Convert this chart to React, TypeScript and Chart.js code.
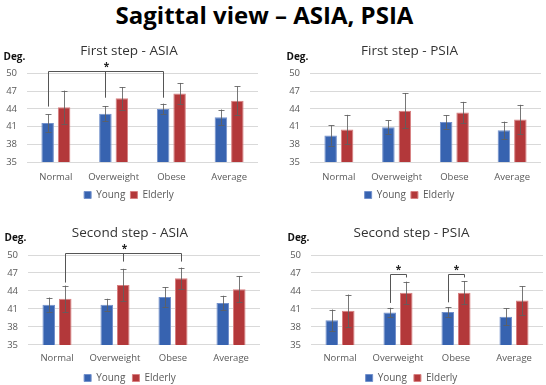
import React, { useEffect, useRef } from 'react';
import { Chart, registerables } from 'chart.js';

Chart.register(...registerables);

const FONT = '"Open Sans", "Noto Sans", sans-serif';

const categories = ['Normal', 'Overweight', 'Obese', 'Average'];
const yTicks = [35, 38, 41, 44, 47, 50];

// First step - ASIA
const asia1Young = [41.6, 43.2, 44.0, 42.6];
const asia1YoungErr = [1.5, 1.3, 0.9, 1.3];
const asia1Elderly = [44.3, 45.8, 46.6, 45.4];
const asia1ElderlyErr = [2.8, 1.9, 1.8, 2.4];

// First step - PSIA
const psia1Young = [39.5, 40.9, 41.8, 40.4];
const psia1YoungErr = [1.7, 1.15, 1.15, 1.45];
const psia1Elderly = [40.5, 43.7, 43.4, 42.2];
const psia1ElderlyErr = [2.5, 3.0, 1.8, 2.5];

// Second step - ASIA
const asia2Young = [41.7, 41.7, 43.0, 42.0];
const asia2YoungErr = [1.2, 1.0, 1.65, 1.2];
const asia2Elderly = [42.7, 45.0, 46.1, 44.3];
const asia2ElderlyErr = [2.2, 2.7, 1.8, 2.2];

// Second step - PSIA
const psia2Young = [39.1, 40.4, 40.5, 39.7];
const psia2YoungErr = [1.8, 0.8, 0.8, 1.4];
const psia2Elderly = [40.7, 43.7, 43.7, 42.4];
const psia2ElderlyErr = [2.7, 1.85, 1.95, 2.4];

// significance brackets: legs = [categoryIndex, datasetIndex, legBottomValue], top value
type Leg = [number, number, number];
type Bracket = { legs: Leg[]; top: number };
const asia1Brackets: Bracket[] = [{ legs: [[0, 0, 44.4], [1, 0, 45.9], [2, 0, 45.9]], top: 50.4 }];
const psia1Brackets: Bracket[] = [];
const asia2Brackets: Bracket[] = [{ legs: [[0, 1, 45.4], [1, 1, 48.9], [2, 1, 48.9]], top: 50.3 }];
const psia2Brackets: Bracket[] = [
  { legs: [[1, 0, 42.0], [1, 1, 46.25]], top: 46.8 },
  { legs: [[2, 0, 42.1], [2, 1, 46.25]], top: 46.85 },
];

const BLUE = '#3763B0';
const BLUE_EDGE = '#7391CC';
const RED = '#B3383A';
const RED_EDGE = '#D88081';

type PanelCfg = {
  title: string;
  young: number[];
  youngErr: number[];
  elderly: number[];
  elderlyErr: number[];
  brackets: Bracket[];
  left: number;
  top: number;
  width: number;
  height: number;
  padLeft: number;
  padRight: number;
  yWidth: number;
  titleTop: number;
  titleBottom: number;
  xPad: number;
  xTrim: number;
  legendPad: number;
};

const overlayPlugin = {
  id: 'overlay',
  afterDatasetsDraw(chart: any, _args: any, opts: any) {
    const ctx = chart.ctx;
    const y = chart.scales.y;
    const errs: number[][] = opts.errs;
    ctx.save();
    // error bars
    errs.forEach((errArr, di) => {
      const meta = chart.getDatasetMeta(di);
      meta.data.forEach((bar: any, i: number) => {
        const v = chart.data.datasets[di].data[i];
        const e = errArr[i];
        const x = Math.round(bar.x) + 0.5;
        const yt = y.getPixelForValue(v + e);
        const yb = y.getPixelForValue(v - e);
        ctx.strokeStyle = 'rgba(95,95,95,0.85)';
        ctx.lineWidth = 1;
        ctx.beginPath();
        ctx.moveTo(x, yt);
        ctx.lineTo(x, yb);
        ctx.moveTo(x - 3, Math.round(yt) + 0.5);
        ctx.lineTo(x + 3, Math.round(yt) + 0.5);
        ctx.moveTo(x - 3, Math.round(yb) + 0.5);
        ctx.lineTo(x + 3, Math.round(yb) + 0.5);
        ctx.stroke();
      });
    });
    // brackets
    const brackets: Bracket[] = opts.brackets;
    ctx.strokeStyle = '#555555';
    ctx.lineWidth = 1;
    brackets.forEach((b) => {
      const pts = b.legs.map(([c, d, v]) => ({
        x: Math.round(chart.getDatasetMeta(d).data[c].x) + 0.5,
        y: y.getPixelForValue(v),
      }));
      const ty = Math.round(y.getPixelForValue(b.top)) + 0.5;
      ctx.beginPath();
      ctx.moveTo(pts[0].x, pts[0].y);
      ctx.lineTo(pts[0].x, ty);
      ctx.lineTo(pts[pts.length - 1].x, ty);
      ctx.lineTo(pts[pts.length - 1].x, pts[pts.length - 1].y);
      for (let k = 1; k < pts.length - 1; k++) {
        ctx.moveTo(pts[k].x, ty);
        ctx.lineTo(pts[k].x, pts[k].y);
      }
      ctx.stroke();
      const sx = pts.length > 2 ? pts[1].x + 1 : (pts[0].x + pts[pts.length - 1].x) / 2;
      ctx.fillStyle = '#222222';
      ctx.font = `bold 10px ${FONT}`;
      ctx.textAlign = 'center';
      ctx.textBaseline = 'middle';
      ctx.fillText('*', sx, ty - 4);
    });
    // "Deg." unit label
    const area = chart.chartArea;
    ctx.fillStyle = '#111111';
    ctx.font = `bold 10px ${FONT}`;
    ctx.textAlign = 'left';
    ctx.textBaseline = 'middle';
    ctx.fillText('Deg.', area.left - 23.5, area.top - 16.5);
    ctx.restore();
  },
};

function Panel({ cfg }: { cfg: PanelCfg }) {
  const ref = useRef<HTMLCanvasElement>(null);
  useEffect(() => {
    if (!ref.current) return;
    const chart = new Chart(ref.current, {
      type: 'bar',
      data: {
        labels: categories,
        datasets: [
          {
            label: 'Young',
            data: cfg.young,
            backgroundColor: BLUE,
            borderColor: BLUE_EDGE,
            borderWidth: 1,
          },
          {
            label: 'Elderly',
            data: cfg.elderly,
            backgroundColor: RED,
            borderColor: RED_EDGE,
            borderWidth: 1,
          },
        ],
      },
      options: {
        animation: false,
        responsive: false,
        maintainAspectRatio: false,
        devicePixelRatio: 1,
        datasets: { bar: { categoryPercentage: 0.57, barPercentage: 0.76 } },
        layout: {
          padding: { left: cfg.padLeft, right: cfg.padRight, top: 0, bottom: 0 },
        },
        scales: {
          x: {
            afterFit: (s: any) => {
              s.height = s.height - cfg.xTrim;
            },
            grid: { display: false, drawTicks: false },
            border: { display: false },
            ticks: {
              color: '#595959', font: { family: FONT, size: 9.5 }, padding: cfg.xPad,
              maxRotation: 0, minRotation: 0, autoSkip: false,
            },
          },
          y: {
            min: 35,
            max: 50,
            afterFit: (s: any) => {
              s.width = cfg.yWidth;
            },
            afterBuildTicks: (s: any) => {
              s.ticks = yTicks.map((v) => ({ value: v }));
            },
            grid: { color: '#D9D9D9', drawTicks: false },
            border: { display: false },
            ticks: { color: '#595959', font: { family: FONT, size: 9.5 }, padding: 10, autoSkip: false },
          },
        },
        plugins: {
          title: {
            display: true,
            text: cfg.title,
            color: '#333333',
            font: { family: FONT, size: 13.5, weight: 'normal' },
            padding: { top: cfg.titleTop, bottom: cfg.titleBottom },
          },
          legend: {
            position: 'bottom',
            labels: {
              color: '#595959',
              font: { family: FONT, size: 10 },
              boxWidth: 7,
              boxHeight: 7,
              padding: cfg.legendPad,
            },
          },
          tooltip: { enabled: false },
          overlay: { errs: [cfg.youngErr, cfg.elderlyErr], brackets: cfg.brackets },
        } as any,
      },
      plugins: [overlayPlugin],
    });
    return () => chart.destroy();
  }, [cfg]);
  return (
    <canvas
      ref={ref}
      width={cfg.width}
      height={cfg.height}
      style={{ position: 'absolute', left: cfg.left, top: cfg.top, width: cfg.width, height: cfg.height }}
    />
  );
}

const panels: PanelCfg[] = [
  {
    title: 'First step - ASIA', young: asia1Young, youngErr: asia1YoungErr, elderly: asia1Elderly,
    elderlyErr: asia1ElderlyErr, brackets: asia1Brackets,
    left: 0, top: 32, width: 268, height: 178, padLeft: 0, padRight: 10, yWidth: 27,
    titleTop: 10.6, titleBottom: 14.7, xPad: 9, xTrim: 6.5, legendPad: 5,
  },
  {
    title: 'First step - PSIA', young: psia1Young, youngErr: psia1YoungErr, elderly: psia1Elderly,
    elderlyErr: psia1ElderlyErr, brackets: psia1Brackets,
    left: 273, top: 32, width: 285, height: 178, padLeft: 5, padRight: 17, yWidth: 32,
    titleTop: 10.6, titleBottom: 14.7, xPad: 9, xTrim: 6.5, legendPad: 5,
  },
  {
    title: 'Second step - ASIA', young: asia2Young, youngErr: asia2YoungErr, elderly: asia2Elderly,
    elderlyErr: asia2ElderlyErr, brackets: asia2Brackets,
    left: 0, top: 205, width: 272, height: 188, padLeft: 0, padRight: 12, yWidth: 28,
    titleTop: 19.6, titleBottom: 14.2, xPad: 8, xTrim: 6.3, legendPad: 7,
  },
  {
    title: 'Second step - PSIA', young: psia2Young, youngErr: psia2YoungErr, elderly: psia2Elderly,
    elderlyErr: psia2ElderlyErr, brackets: psia2Brackets,
    left: 273, top: 205, width: 285, height: 188, padLeft: 7, padRight: 15, yWidth: 31,
    titleTop: 19.6, titleBottom: 14.2, xPad: 8, xTrim: 6.3, legendPad: 7,
  },
];

export default function App() {
  return (
    <div
      style={{
        position: 'fixed', left: 0, top: 0, width: 546, height: 385,
        background: '#ffffff', overflow: 'hidden',
      }}
    >
      <div
        style={{
          position: 'absolute', left: 0, top: 0, width: 529, textAlign: 'center',
          fontFamily: FONT, fontWeight: 700, fontSize: 24, lineHeight: '30px', color: '#000',
        }}
      >
        Sagittal view – ASIA, PSIA
      </div>
      {panels.map((p) => (
        <Panel key={p.title} cfg={p} />
      ))}
    </div>
  );
}
